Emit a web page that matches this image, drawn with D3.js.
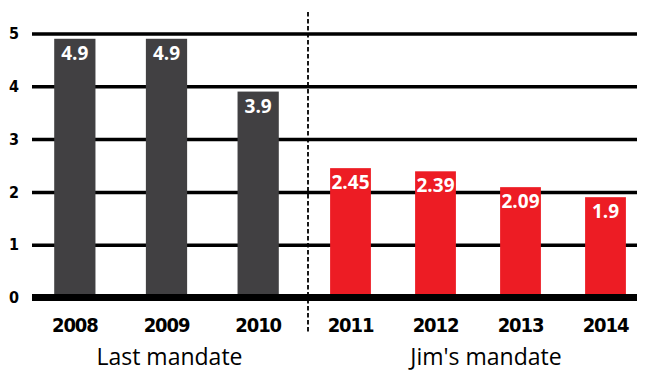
<!DOCTYPE html>
<html>
<head>
<meta charset="utf-8">
<script src="https://cdn.jsdelivr.net/npm/d3@7"></script>
<style>
  html, body { margin: 0; padding: 0; background: #fff; }
  svg { display: block; }
  .tick-label { font-family: "DejaVu Sans Condensed", "DejaVu Sans", sans-serif; font-weight: bold; }
  .year-label { font-family: "DejaVu Sans Condensed", "DejaVu Sans", sans-serif; font-weight: bold; font-size: 20px; letter-spacing: -1.1px; }
  .value-label { font-family: "Open Sans", sans-serif; font-weight: bold; font-size: 19px; fill: #fff; }
  .group-label { font-family: "Open Sans", sans-serif; font-size: 23px; }
</style>
</head>
<body>
<div id="chart"></div>
<script>
// Two mandates, each drawn on its own band scale so the spacing matches
// the original (left group is a little more spread out than the right).
const LAST_YEARS = ['2008', '2009', '2010'];
const LAST_VALUES = [4.9, 4.9, 3.9];
const JIM_YEARS = ['2011', '2012', '2013', '2014'];
const JIM_VALUES = [2.45, 2.39, 2.09, 1.9];
const GROUP_LABELS = ['Last mandate', "Jim's mandate"];
const Y_TICKS = [0, 1, 2, 3, 4, 5];

const WIDTH = 653;
const HEIGHT = 377;
const GRID_LEFT = 32;
const GRID_RIGHT = 637;
const COLORS = { last: '#414042', jim: '#ed1c24' };

const svg = d3.select('#chart').append('svg').attr('width', WIDTH).attr('height', HEIGHT);

const y = d3.scaleLinear().domain([0, 5]).range([297.5, 33.5]);

const xLast = d3.scaleBand().domain(LAST_YEARS).range([29, 304]).paddingInner(0.55).paddingOuter(0.275);
const xJim = d3.scaleBand().domain(JIM_YEARS).range([308, 648]).paddingInner(0.52).paddingOuter(0.26);

// gridlines + y tick labels
const yAxis = svg.append('g')
  .attr('transform', `translate(${GRID_LEFT},0)`)
  .call(d3.axisLeft(y).tickValues(Y_TICKS).tickFormat(d3.format('d'))
    .tickSize(-(GRID_RIGHT - GRID_LEFT)).tickPadding(13));
yAxis.select('.domain').remove();
yAxis.selectAll('.tick line').attr('stroke', '#000').attr('stroke-width', 3.5);
yAxis.selectAll('.tick text')
  .attr('class', 'tick-label')
  .attr('fill', '#000')
  .attr('font-size', 16)
  .attr('font-family', null);

const groups = [
  { scale: xLast, years: LAST_YEARS, values: LAST_VALUES, color: COLORS.last, label: GROUP_LABELS[0], shift: 3 },
  { scale: xJim, years: JIM_YEARS, values: JIM_VALUES, color: COLORS.jim, label: GROUP_LABELS[1], shift: 8 },
];

groups.forEach((grp) => {
  const data = grp.years.map((year, i) => ({ year, value: grp.values[i] }));
  const gEl = svg.append('g');

  gEl.selectAll('rect')
    .data(data)
    .join('rect')
    .attr('x', (d) => grp.scale(d.year))
    .attr('width', grp.scale.bandwidth())
    .attr('y', (d) => y(d.value))
    .attr('height', (d) => y(0) - y(d.value))
    .attr('fill', grp.color);

  gEl.selectAll('text.value-label')
    .data(data)
    .join('text')
    .attr('class', 'value-label')
    .attr('text-anchor', 'middle')
    .attr('x', (d) => grp.scale(d.year) + grp.scale.bandwidth() / 2)
    .attr('y', (d) => y(d.value) + 21)
    .text((d) => d.value);

  gEl.selectAll('text.year-label')
    .data(data)
    .join('text')
    .attr('class', 'year-label')
    .attr('text-anchor', 'middle')
    .attr('x', (d) => grp.scale(d.year) + grp.scale.bandwidth() / 2)
    .attr('y', 332)
    .text((d) => d.year);

  const [r0, r1] = grp.scale.range();
  gEl.append('text')
    .attr('class', 'group-label')
    .attr('text-anchor', 'middle')
    .attr('x', (r0 + r1) / 2 + grp.shift)
    .attr('y', 365)
    .text(grp.label);
});

// thick zero baseline over the bars
svg.append('line')
  .attr('x1', GRID_LEFT).attr('x2', GRID_RIGHT)
  .attr('y1', y(0)).attr('y2', y(0))
  .attr('stroke', '#000').attr('stroke-width', 7);

// dashed divider between the two mandates
const dividerX = (xLast.range()[1] + xJim.range()[0]) / 2 + 2;
svg.append('line')
  .attr('x1', dividerX).attr('x2', dividerX)
  .attr('y1', 12).attr('y2', 333)
  .attr('stroke', '#000').attr('stroke-width', 1.8)
  .attr('stroke-dasharray', '4.5,2.5');
</script>
</body>
</html>
